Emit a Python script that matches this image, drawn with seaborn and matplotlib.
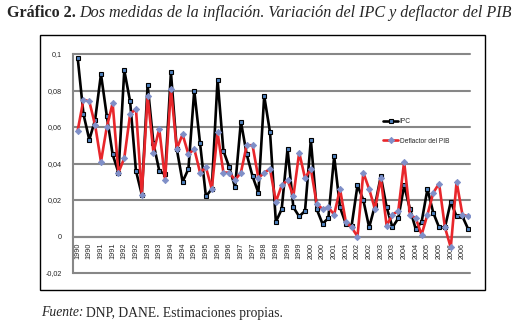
import matplotlib
matplotlib.use("Agg")
import matplotlib.pyplot as plt
import seaborn as sns
import pandas as pd
from matplotlib.patches import Rectangle

# ---------------- data (quarterly, 1990Q1 - 2006Q4) ----------------
ipc = [0.098, 0.067, 0.053, 0.064, 0.089, 0.066, 0.045, 0.035,
       0.091, 0.074, 0.036, 0.023, 0.083, 0.051, 0.036, 0.034,
       0.090, 0.048, 0.030, 0.037, 0.080, 0.051, 0.022, 0.026,
       0.086, 0.047, 0.038, 0.027, 0.063, 0.045, 0.033, 0.024,
       0.077, 0.057, 0.008, 0.015, 0.048, 0.016, 0.011, 0.014,
       0.053, 0.015, 0.007, 0.010, 0.044, 0.016, 0.007, 0.006,
       0.028, 0.020, 0.005, 0.017, 0.033, 0.016, 0.005, 0.010,
       0.028, 0.015, 0.004, 0.008, 0.026, 0.013, 0.005, 0.005,
       0.019, 0.011, 0.011, 0.004]
deflactor = [0.058, 0.075, 0.074, 0.061, 0.041, 0.060, 0.073, 0.035,
             0.043, 0.067, 0.070, 0.023, 0.077, 0.046, 0.059, 0.031,
             0.081, 0.048, 0.056, 0.045, 0.048, 0.035, 0.038, 0.026,
             0.057, 0.035, 0.035, 0.031, 0.035, 0.050, 0.050, 0.032,
             0.035, 0.037, 0.019, 0.028, 0.031, 0.022, 0.046, 0.032,
             0.037, 0.018, 0.015, 0.016, 0.012, 0.026, 0.008, 0.005,
             0.000, 0.035, 0.026, 0.015, 0.032, 0.006, 0.012, 0.014,
             0.041, 0.012, 0.010, 0.001, 0.012, 0.024, 0.029, 0.005,
             -0.006, 0.030, 0.012, 0.011]
x_labels = ["1990", "1990", "1991", "1991", "1992", "1992", "1993", "1993",
            "1994", "1994", "1995", "1995", "1996", "1996", "1997", "1997",
            "1998", "1998", "1999", "1999", "2000", "2000", "2001", "2001",
            "2002", "2002", "2003", "2003", "2004", "2004", "2005", "2005",
            "2006", "2006"]
y_ticks = [-0.02, 0, 0.02, 0.04, 0.06, 0.08, 0.1]
y_labels = ["-0,02", "0", "0,02", "0,04", "0,06", "0,08", "0,1"]

df = pd.DataFrame({"t": list(range(len(ipc))), "IPC": ipc,
                   "Deflactor del PIB": deflactor})

sns.set_style("white")
plt.rcParams['font.family'] = ['Liberation Sans', 'DejaVu Sans']

W, H = 519, 323
fig = plt.figure(figsize=(W / 100, H / 100), dpi=100)
ax = fig.add_axes([72.7 / W, 1 - 273 / H, (470 - 72.7) / W, (273 - 54) / H])

grid_c = "#878787"
for yv in y_ticks:
    ax.axhline(yv, color=grid_c, lw=1.5, zorder=1, clip_on=False)

sns.lineplot(data=df, x="t", y="IPC", ax=ax, color="black", lw=1.9,
             marker="s", markersize=3.3, markerfacecolor="#4F81BD",
             markeredgecolor="black", markeredgewidth=0.8, label="IPC",
             zorder=3)
sns.lineplot(data=df, x="t", y="Deflactor del PIB", ax=ax, color="#E8262B",
             lw=1.9, marker="D", markersize=3.2, markerfacecolor="#7F8FC8",
             markeredgecolor="#7F8FC8", markeredgewidth=0.6,
             label="Deflactor del PIB", zorder=4)

for s in ["top", "right"]:
    ax.spines[s].set_visible(False)
ax.spines["left"].set_color(grid_c)
ax.spines["left"].set_linewidth(1.5)
ax.spines["bottom"].set_position(("data", 0))
ax.spines["bottom"].set_color(grid_c)
ax.spines["bottom"].set_linewidth(1.5)

ax.set_xlim(-0.85, 67.3)
ax.set_ylim(-0.02, 0.1)
ax.set_xlabel("")
ax.set_ylabel("")
ax.set_yticks(y_ticks)
ax.set_yticklabels(y_labels, fontsize=5.2)
ax.set_xticks(list(range(0, len(ipc), 2)))
ax.set_xticklabels(x_labels, rotation=90, fontsize=5.2)
ax.tick_params(axis="y", length=3, width=1, color=grid_c, pad=5)
ax.tick_params(axis="x", length=3, width=1, color=grid_c, pad=1.5)

ax.legend(loc="upper left", bbox_to_anchor=(383 / W, 1 - 118 / H),
          bbox_transform=fig.transFigure, frameon=False, fontsize=4.8,
          handlelength=2.3, handletextpad=0.2, labelspacing=1.9,
          borderaxespad=0, borderpad=0)

# outer frame
fig.patches.append(Rectangle((40 / W, 1 - 290 / H), 445 / W, 255 / H,
                             transform=fig.transFigure, fill=False,
                             lw=1.0, ec="black"))

# title
fig.canvas.draw()
r = fig.canvas.get_renderer()
t1 = fig.text(7 / W, 1 - 13 / H, "Gráfico 2.", family="Liberation Serif",
              weight="bold", fontsize=11.6, va="center", ha="left")
bb = t1.get_window_extent(renderer=r)
fig.text(bb.x1 / W + 3 / W, 1 - 13 / H,
         "Dos medidas de la inflación. Variación del IPC y deflactor del PIB",
         family="Liberation Serif", style="italic", fontsize=11.6,
         va="center", ha="left")

t2 = fig.text(41 / W, 1 - 313 / H, "Fuente:", family="Liberation Serif",
              style="italic", fontsize=9.8, va="center", ha="left")
bb2 = t2.get_window_extent(renderer=r)
fig.text(bb2.x1 / W + 2.5 / W, 1 - 313 / H,
         "DNP, DANE. Estimaciones propias.", family="Liberation Serif",
         fontsize=9.8, va="center", ha="left")

fig.savefig("out.png", dpi=100)
